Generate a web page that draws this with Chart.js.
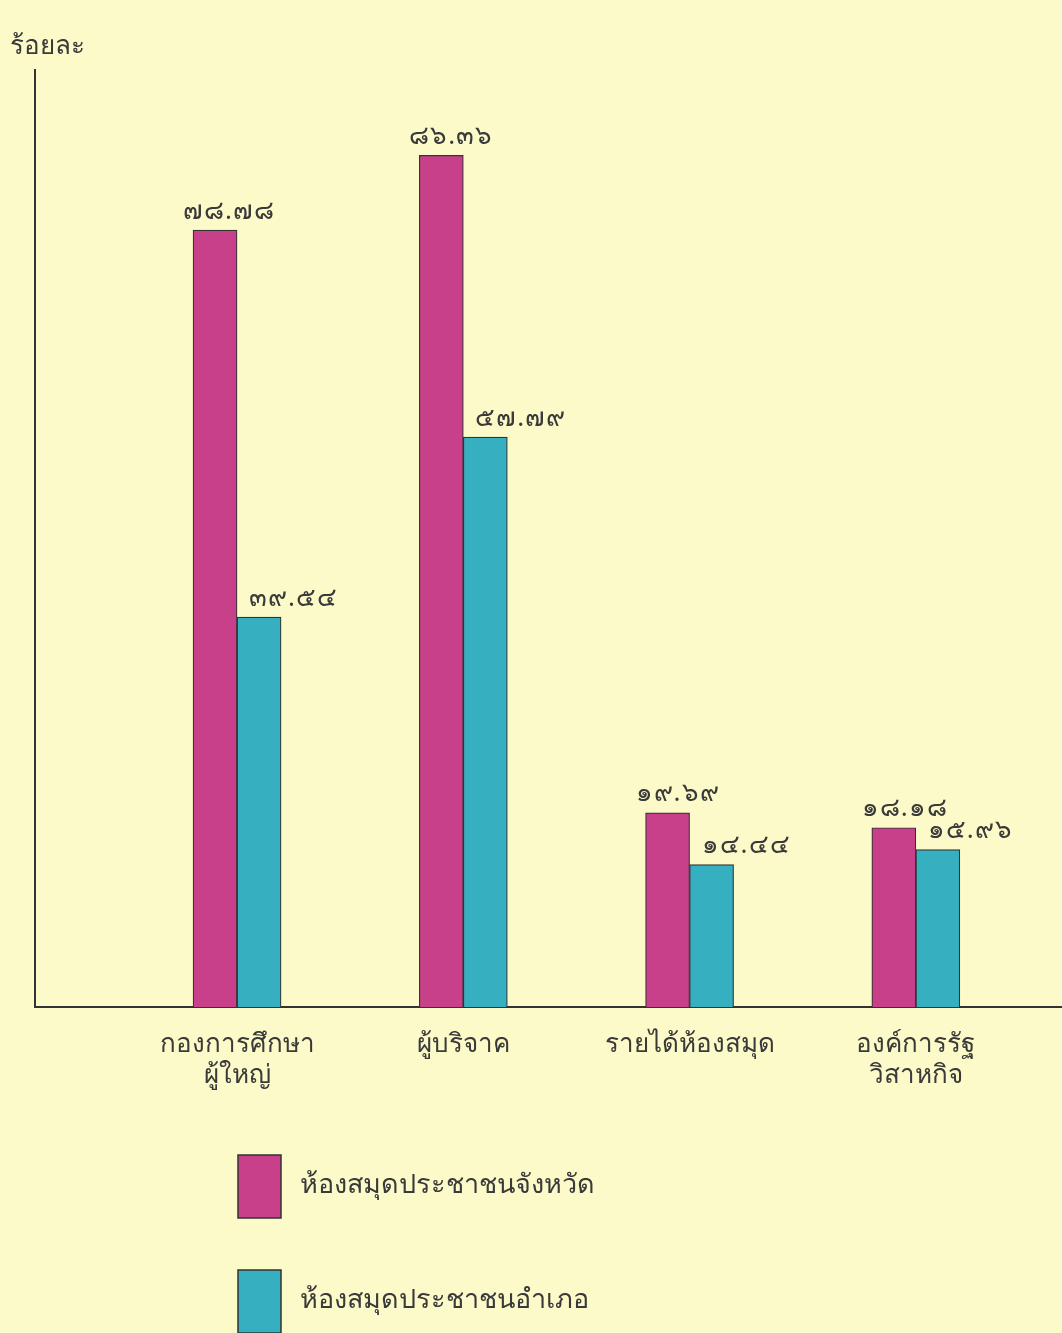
<!DOCTYPE html>
<html><head><meta charset="utf-8">
<style>html,body{margin:0;padding:0;background:#fcfac8;} #wrap{width:1062px;height:1333px;}</style>
<script src="https://cdn.jsdelivr.net/npm/chart.js@4/dist/chart.umd.min.js"></script>
</head><body><div id="wrap"><canvas id="c" width="1062" height="1333"></canvas></div>
<script>
const categories = [['กองการศึกษา','ผู้ใหญ่'], ['ผู้บริจาค'], ['รายได้ห้องสมุด'], ['องค์การรัฐ','วิสาหกิจ']];
const seriesNames = ['ห้องสมุดประชาชนจังหวัด', 'ห้องสมุดประชาชนอำเภอ'];
const provincial = [78.78, 86.36, 19.69, 18.18];
const district = [39.54, 57.79, 14.44, 15.96];
const yTitle = 'ร้อยละ';

const FONT = "'Noto Sans', 'DejaVu Sans', sans-serif";
const INK = '#3a3a3a';
const COLORS = ['#c8408a', '#36afc0'];
const thaiDigits = '๐๑๒๓๔๕๖๗๘๙';
const toThai = v => v.toFixed(2).replace(/[0-9]/g, d => thaiDigits[+d]);

const bg = {
  id: 'bg',
  beforeDraw(chart) {
    const {ctx, width, height} = chart;
    ctx.save(); ctx.fillStyle = '#fcfac8'; ctx.fillRect(0, 0, width, height); ctx.restore();
  }
};

const valueLabels = {
  id: 'valueLabels',
  afterDatasetsDraw(chart) {
    const {ctx} = chart;
    ctx.save();
    ctx.font = '26px ' + FONT;
    ctx.fillStyle = INK;
    ctx.textBaseline = 'bottom';
    ctx.textAlign = 'left';
    try { ctx.letterSpacing = '1px'; } catch (e) {}
    chart.data.datasets.forEach((ds, di) => {
      const meta = chart.getDatasetMeta(di);
      meta.data.forEach((bar, i) => {
        const left = bar.x - bar.width / 2;
        const x = di === 0 ? left - 10 : left + 12;
        ctx.fillText(toThai(ds.data[i].y), x, bar.y - 6);
      });
    });
    ctx.restore();
  }
};

const customLegend = {
  id: 'customLegend',
  afterDraw(chart) {
    const {ctx, chartArea} = chart;
    ctx.save();
    ctx.font = '27px ' + FONT;
    ctx.textBaseline = 'middle';
    ctx.textAlign = 'left';
    chart.data.datasets.forEach((ds, di) => {
      const bx = chartArea.left + 203;
      const by = chartArea.bottom + 148 + di * 115;
      ctx.fillStyle = ds.backgroundColor;
      ctx.fillRect(bx, by, 43, 63);
      ctx.strokeStyle = '#333';
      ctx.lineWidth = 1.5;
      ctx.strokeRect(bx, by, 43, 63);
      ctx.fillStyle = INK;
      ctx.fillText(ds.label, bx + 62, by + 30);
    });
    ctx.restore();
  }
};

const toPoints = arr => arr.map((v, i) => ({x: i + 1, y: v}));

new Chart(document.getElementById('c'), {
  type: 'bar',
  data: {
    datasets: [
      {label: seriesNames[0], data: toPoints(provincial), backgroundColor: COLORS[0], borderColor: '#333', borderWidth: 1.2, barThickness: 44},
      {label: seriesNames[1], data: toPoints(district), backgroundColor: COLORS[1], borderColor: '#333', borderWidth: 1.2, barThickness: 44}
    ]
  },
  options: {
    responsive: false,
    animation: false,
    devicePixelRatio: 1,
    layout: {padding: {left: 10, right: 0, top: 0, bottom: 0}},
    plugins: {
      legend: {display: false},
      tooltip: {enabled: false},
      title: {
        display: true, text: yTitle, align: 'start', color: INK,
        font: {family: FONT, size: 26, weight: 'normal'},
        padding: {top: 31, bottom: 8}
      }
    },
    scales: {
      x: {
        type: 'linear', min: 0.107, max: 4.646, offset: false,
        grid: {display: false, drawTicks: false, offset: false},
        border: {display: true, color: '#333', width: 2},
        afterBuildTicks: s => { s.ticks = categories.map((_, i) => ({value: i + 1})); },
        afterFit: s => { s.height = 326; },
        ticks: {
          color: INK, padding: 22, maxRotation: 0, autoSkip: false,
          font: {family: FONT, size: 26},
          callback: v => categories[v - 1] || ''
        }
      },
      y: {
        min: 0, max: 95,
        grid: {display: false, drawTicks: false},
        border: {display: true, color: '#333', width: 2},
        ticks: {display: false},
        afterFit: s => { s.width = 25; }
      }
    }
  },
  plugins: [bg, valueLabels, customLegend]
});
</script>
</body></html>
